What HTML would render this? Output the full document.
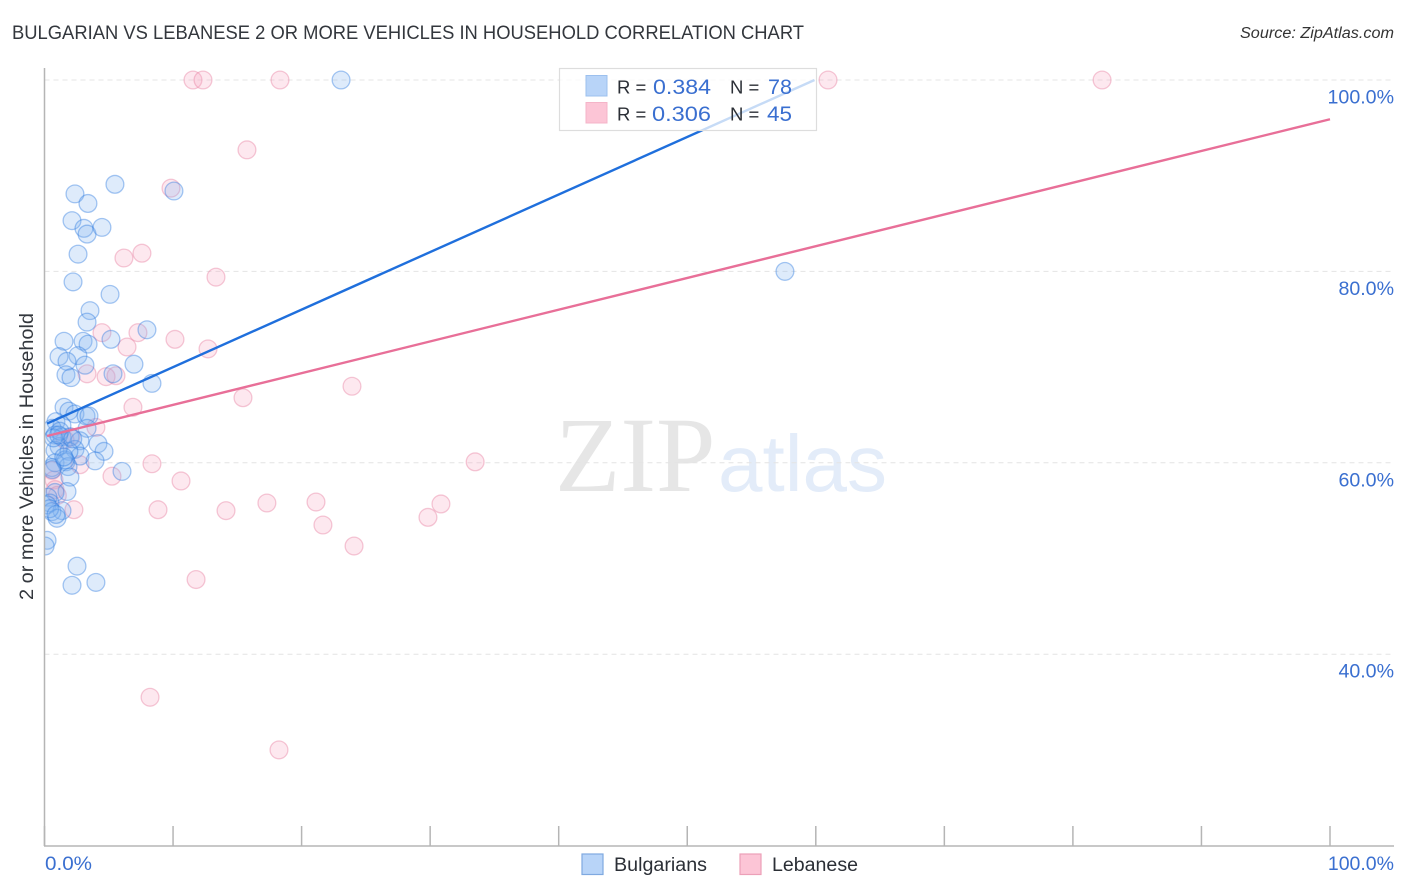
<!DOCTYPE html>
<html lang="en">
<head>
<meta charset="utf-8">
<title>Bulgarian vs Lebanese 2 or more Vehicles in Household Correlation Chart</title>
<style>
html,body{margin:0;padding:0;background:#fff;width:1406px;height:892px;overflow:hidden}
svg{display:block;font-family:"Liberation Sans",sans-serif}
</style>
</head>
<body>
<svg id="chart" width="1406" height="892" viewBox="0 0 1406 892" xmlns="http://www.w3.org/2000/svg">
  <defs>
    <clipPath id="plot-clip"><rect x="44.5" y="60" width="1350" height="786"></rect></clipPath>
  </defs>
  <text x="12" y="39" font-size="19" fill="#33373d" textLength="792" lengthAdjust="spacingAndGlyphs">BULGARIAN VS LEBANESE 2 OR MORE VEHICLES IN HOUSEHOLD CORRELATION CHART</text>
  <text x="1394" y="38" font-size="15.5" font-style="italic" fill="#333" text-anchor="end" textLength="154" lengthAdjust="spacingAndGlyphs">Source: ZipAtlas.com</text>

  <g>
    <text x="555" y="491" font-family="'Liberation Serif',serif" font-size="107" fill="#e6e6e6">ZIP</text>
    <text x="718" y="491" font-size="80" fill="#e3ecf9">atlas</text>
  </g>

  <g id="grid"></g>
  <g id="points" clip-path="url(#plot-clip)"></g>
  <g id="trends"></g>

  <line x1="44.5" y1="68" x2="44.5" y2="846" stroke="#b5b5b5" stroke-width="1.5"></line>
  <line x1="44" y1="846" x2="1394" y2="846" stroke="#b5b5b5" stroke-width="1.5"></line>
  <g id="xticks"></g>
  <g id="ylabels"></g>

  <text transform="translate(33,456.5) rotate(-90)" font-size="19" fill="#33373d" text-anchor="middle" textLength="287" lengthAdjust="spacingAndGlyphs">2 or more Vehicles in Household</text>

  <g>
    <rect x="559.5" y="68.5" width="257" height="62" fill="#fff" fill-opacity="0.75" stroke="#ddd" stroke-width="1.2"></rect>
    <rect x="586" y="75.5" width="21" height="20.5" fill="#b8d4f8" stroke="#9cc0ee" stroke-width="1"></rect>
    <rect x="586" y="102.5" width="21" height="20.5" fill="#fcc5d6" stroke="#f4b4c8" stroke-width="1"></rect>
    <text x="617" y="93.5" font-size="18.5" fill="#2b2f36">R =</text>
    <text x="653" y="94" font-size="21" fill="#3a6fd0" textLength="58" lengthAdjust="spacingAndGlyphs">0.384</text>
    <text x="730" y="93.5" font-size="18.5" fill="#2b2f36">N =</text>
    <text x="768" y="94" font-size="21" fill="#3a6fd0" textLength="24" lengthAdjust="spacingAndGlyphs">78</text>
    <text x="617" y="120.5" font-size="18.5" fill="#2b2f36">R =</text>
    <text x="652" y="121" font-size="21" fill="#3a6fd0" textLength="59" lengthAdjust="spacingAndGlyphs">0.306</text>
    <text x="730" y="120.5" font-size="18.5" fill="#2b2f36">N =</text>
    <text x="767" y="121" font-size="21" fill="#3a6fd0" textLength="25" lengthAdjust="spacingAndGlyphs">45</text>
  </g>

  <text x="45" y="870" font-size="19.5" fill="#3a6fd0" textLength="47" lengthAdjust="spacingAndGlyphs">0.0%</text>
  <text x="1394" y="870" font-size="19.5" fill="#3a6fd0" text-anchor="end">100.0%</text>

  <g>
    <g>
      <rect x="582" y="854" width="21" height="20.5" fill="#b8d4f8" stroke="#7fa9e0" stroke-width="1.2"></rect>
      <text x="614" y="871" font-size="19" fill="#2b2f36" textLength="93" lengthAdjust="spacingAndGlyphs">Bulgarians</text>
    </g>
    <g>
      <rect x="740" y="854" width="21" height="20.5" fill="#fcc5d6" stroke="#eca0b8" stroke-width="1.2"></rect>
      <text x="772" y="871" font-size="19" fill="#2b2f36" textLength="86" lengthAdjust="spacingAndGlyphs">Lebanese</text>
    </g>
  </g>
</svg>
<script>
const yTickValues = [100, 80, 60, 40];
const yTickLabels = ["100.0%", "80.0%", "60.0%", "40.0%"];
const xTickValues = [0, 10, 20, 30, 40, 50, 60, 70, 80, 90, 100];

const bulgariansX = [23.07,5.48,2.37,10.07,3.38,2.14,3.07,3.31,4.47,2.61,2.22,5.1,57.6,3.54,3.31,7.97,1.52,3.0,5.17,3.39,1.13,2.6,1.75,6.96,3.15,1.67,2.06,5.33,8.36,1.52,1.9,2.37,3.23,3.46,0.89,1.36,3.31,0.6,0.82,1.36,1.98,2.76,4.16,1.13,2.37,4.63,0.82,2.76,1.9,3.93,0.82,1.67,1.83,0.58,6.03,1.98,1.75,0.82,0.27,0.43,0.2,1.36,0.58,0.97,0.2,0.05,2.53,2.14,4.0,1.2,1.6,0.7,0.4,0.9,1.1,0.6,1.5,2.2];
const bulgariansY = [100,89.1,88.1,88.4,87.1,85.3,84.5,83.9,84.6,81.8,78.9,77.6,80.0,75.9,74.7,73.9,72.7,72.7,72.9,72.4,71.1,71.2,70.6,70.3,70.2,69.2,68.9,69.3,68.3,65.8,65.4,65.1,64.9,64.9,64.3,63.9,63.6,63.6,62.9,62.7,62.7,62.3,62.0,61.7,61.4,61.2,61.3,60.7,61.2,60.2,60.0,60.1,59.6,59.5,59.1,58.5,57.0,56.9,56.4,55.8,55.6,55.0,54.9,54.2,51.9,51.3,49.2,47.2,47.5,63.3,60.3,62.6,55.2,54.6,62.9,59.3,60.6,62.5];

const lebaneseX = [11.55,12.33,18.32,60.95,82.27,15.75,9.84,7.58,6.18,13.34,4.47,7.27,10.15,6.42,12.72,3.31,4.79,5.56,23.92,15.44,6.88,4.0,2.06,33.5,8.36,2.76,0.58,5.25,10.62,0.74,17.3,21.12,30.84,8.83,14.12,2.29,29.83,21.66,24.08,11.79,8.21,18.24,0.82,1.0,1.6];
const lebaneseY = [100,100,100,100,100,92.7,88.7,81.9,81.4,79.4,73.6,73.6,72.9,72.1,71.9,69.3,69.0,69.1,68.0,66.8,65.8,63.7,62.7,60.1,59.9,59.8,59.2,58.6,58.1,58.2,55.8,55.9,55.7,55.1,55.0,55.1,54.3,53.5,51.3,47.8,35.5,30.0,57.2,56.6,62.4];

const bulgariansTrendX = [0.2, 59.9];
const bulgariansTrendY = [64.1, 100];
const lebaneseTrendX = [0.2, 100];
const lebaneseTrendY = [62.8, 95.9];

const SVGNS = "http://www.w3.org/2000/svg";
function xScale(v){ return 44.5 + v * 12.855; }
function yScale(v){ return 80 + (100 - v) * 9.57; }
function make(tag, attrs, parent){
  const el = document.createElementNS(SVGNS, tag);
  for (const k in attrs) el.setAttribute(k, attrs[k]);
  parent.appendChild(el);
  return el;
}

const grid = document.getElementById("grid");
const ylabels = document.getElementById("ylabels");
yTickValues.forEach(function(v, i){
  const g = make("line", {x1:44.5, x2:1394, y1:yScale(v), y2:yScale(v), stroke:"#e4e4e4", "stroke-width":1, "stroke-dasharray":"5 4"}, grid);
  
  
  const t = make("text", {x:1394, y:yScale(v) + 23.5, "font-size":19.6, fill:"#3a6fd0", "text-anchor":"end"}, ylabels);
  t.textContent = yTickLabels[i];
  
  
});

const xticks = document.getElementById("xticks");
xTickValues.forEach(function(v){
  const l = make("line", {x1:xScale(v), x2:xScale(v), y1:826, y2:846, stroke:"#b5b5b5", "stroke-width":1.5}, xticks);
  
  
});

const points = document.getElementById("points");
function drawSeries(xs, ys, fill, stroke, name){
  xs.forEach(function(x, i){
    const c = make("circle", {cx:xScale(x), cy:yScale(ys[i]), r:8.9, fill:fill, "fill-opacity":0.26, stroke:stroke, "stroke-opacity":0.42, "stroke-width":1.3}, points);
    
    
  });
}
drawSeries(lebaneseX, lebaneseY, "#f9a8c0", "#e87fa0", "point-lebanese");
drawSeries(bulgariansX, bulgariansY, "#7fb0ee", "#2f7be0", "point-bulgarians");

const trends = document.getElementById("trends");
const lineBlue = make("line", {x1:xScale(bulgariansTrendX[0]), y1:yScale(bulgariansTrendY[0]), x2:xScale(bulgariansTrendX[1]), y2:yScale(bulgariansTrendY[1]), stroke:"#1f6fdc", "stroke-width":2.4}, trends);


const linePink = make("line", {x1:xScale(lebaneseTrendX[0]), y1:yScale(lebaneseTrendY[0]), x2:xScale(lebaneseTrendX[1]), y2:yScale(lebaneseTrendY[1]), stroke:"#e86f98", "stroke-width":2.4}, trends);


</script>
</body>
</html>
